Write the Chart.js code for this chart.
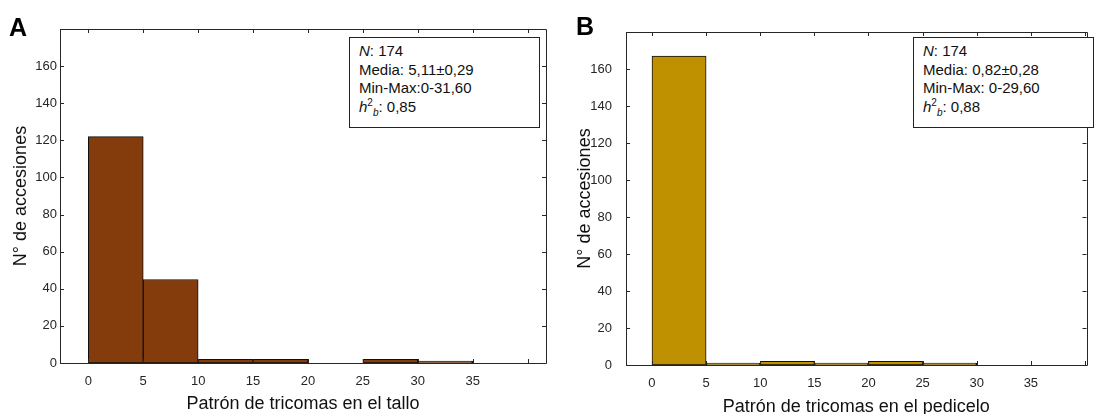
<!DOCTYPE html>
<html>
<head>
<meta charset="utf-8">
<script src="https://cdn.jsdelivr.net/npm/chart.js@4"></script>
<style>
  body { margin: 0; background: #fff; font-family: "Liberation Sans", Arial, sans-serif; }
  #wrap { position: relative; width: 1096px; height: 414px; }
  canvas { position: absolute; top: 0; }
  #cA { left: 0; }
  #cB { left: 548px; }
  .panel { position: absolute; font-weight: bold; font-size: 25px; color: #000; }
  .stats {
    position: absolute; border: 1px solid #222; background: #fff;
    font-size: 15px; line-height: 18.5px; color: #111;
    padding: 4px 0 0 9px; box-sizing: border-box;
  }
  .stats i { font-style: italic; }
  .stats sup, .stats sub { font-size: 10px; line-height: 0; }
</style>
</head>
<body>
<div id="wrap">
  <canvas id="cA" width="548" height="414"></canvas>
  <canvas id="cB" width="548" height="414"></canvas>
  <div class="panel" style="left:9px; top:13px;">A</div>
  <div class="panel" style="left:576px; top:12px;">B</div>
  <div class="stats" style="left:349px; top:37px; width:191px; height:91px;">
    <div><i>N</i>: 174</div>
    <div>Media: 5,11±0,29</div>
    <div>Min-Max:0-31,60</div>
    <div><i>h</i><sup>2</sup><sub><i>b</i></sub>: 0,85</div>
  </div>
  <div class="stats" style="left:913px; top:37px; width:181px; height:91px;">
    <div><i>N</i>: 174</div>
    <div>Media: 0,82±0,28</div>
    <div>Min-Max: 0-29,60</div>
    <div><i>h</i><sup>2</sup><sub><i>b</i></sub>: 0,88</div>
  </div>
</div>
<script>
// -----------------------------
// Data
// -----------------------------
const binCenters = [2.5, 7.5, 12.5, 17.5, 22.5, 27.5, 32.5, 37.5];
const xTicks = [0, 5, 10, 15, 20, 25, 30, 35, 40];
const yTicks = [0, 20, 40, 60, 80, 100, 120, 140, 160, 180];
const talloCounts = [122, 45, 2, 2, 0, 2, 1, 0];
const pedicelCounts = [167, 1, 2, 1, 2, 1, 0, 0];

// frame + inward tick marks, matlab style
const framePlugin = {
  id: "frame",
  afterDraw(chart) {
    const { ctx, chartArea: a } = chart;
    const xs = chart.scales.x, ys = chart.scales.y;
    ctx.save();
    ctx.strokeStyle = "#262626";
    ctx.lineWidth = 1;
    ctx.beginPath();
    ctx.rect(Math.round(a.left) + 0.5, Math.round(a.top) + 0.5,
             Math.round(a.right - a.left), Math.round(a.bottom - a.top));
    xs.ticks.forEach(t => {
      const px = Math.round(xs.getPixelForValue(t.value)) + 0.5;
      ctx.moveTo(px, a.bottom); ctx.lineTo(px, a.bottom - 4);
      ctx.moveTo(px, a.top); ctx.lineTo(px, a.top + 4);
    });
    ys.ticks.forEach(t => {
      const py = Math.round(ys.getPixelForValue(t.value)) + 0.5;
      ctx.moveTo(a.left, py); ctx.lineTo(a.left + 4, py);
      ctx.moveTo(a.right, py); ctx.lineTo(a.right - 4, py);
    });
    ctx.stroke();
    ctx.restore();
  }
};

function makeHist(id, counts, color, opts) {
  return new Chart(document.getElementById(id), {
    type: "bar",
    data: {
      datasets: [{
        data: binCenters.map((c, i) => ({ x: c, y: counts[i] })),
        backgroundColor: color,
        borderColor: "#111",
        borderWidth: 1,
        borderSkipped: false,
        barPercentage: 1,
        categoryPercentage: 1
      }]
    },
    options: {
      responsive: false,
      animation: false,
      layout: { padding: { top: opts.top, right: opts.right, left: 0, bottom: 0 } },
      plugins: { legend: { display: false }, tooltip: { enabled: false } },
      scales: {
        x: {
          type: "linear",
          offset: false,
          min: opts.xmin,
          max: opts.xmax,
          afterBuildTicks: s => { s.ticks = xTicks.map(v => ({ value: v })); },
          afterFit: s => { s.height = opts.xh; },
          grid: { display: false, drawTicks: false, offset: false },
          border: { display: false },
          ticks: {
            padding: opts.xpad,
            color: "#262626",
            font: { family: "Liberation Sans", size: 13 },
            maxRotation: 0,
            callback: v => (v === 40 ? "" : v)
          },
          title: {
            display: true,
            text: opts.xtitle,
            color: "#111",
            font: { family: "Liberation Sans", size: 18, lineHeight: 1 },
            padding: { top: 0, bottom: opts.xtpad }
          }
        },
        y: {
          min: 0,
          max: 180,
          afterBuildTicks: s => { s.ticks = yTicks.map(v => ({ value: v })); },
          afterFit: s => { s.width = opts.yw; },
          grid: { display: false, drawTicks: false },
          border: { display: false },
          ticks: {
            padding: opts.ypad,
            color: "#262626",
            font: { family: "Liberation Sans", size: 13 },
            callback: v => (v === 180 ? "" : v)
          },
          title: {
            display: true,
            text: "N° de accesiones",
            color: "#111",
            font: { family: "Liberation Sans", size: 18, lineHeight: 1 },
            padding: { top: opts.ytpad, bottom: 0 }
          }
        }
      }
    },
    plugins: [framePlugin]
  });
}

makeHist("cA", talloCounts, "#843C0C", {
  top: 29, right: 2, xh: 51, yw: 60, xmin: -2.58, xmax: 41.68,
  xpad: 11, ypad: 3, xtpad: 1, ytpad: 12,
  xtitle: "Patrón de tricomas en el tallo"
});

makeHist("cB", pedicelCounts, "#BF9000", {
  top: 32, right: 3, xh: 49, yw: 78, xmin: -2.40, xmax: 40.14,
  xpad: 11, ypad: 14, xtpad: -2, ytpad: 28,
  xtitle: "Patrón de tricomas en el pedicelo"
});
</script>
</body>
</html>
